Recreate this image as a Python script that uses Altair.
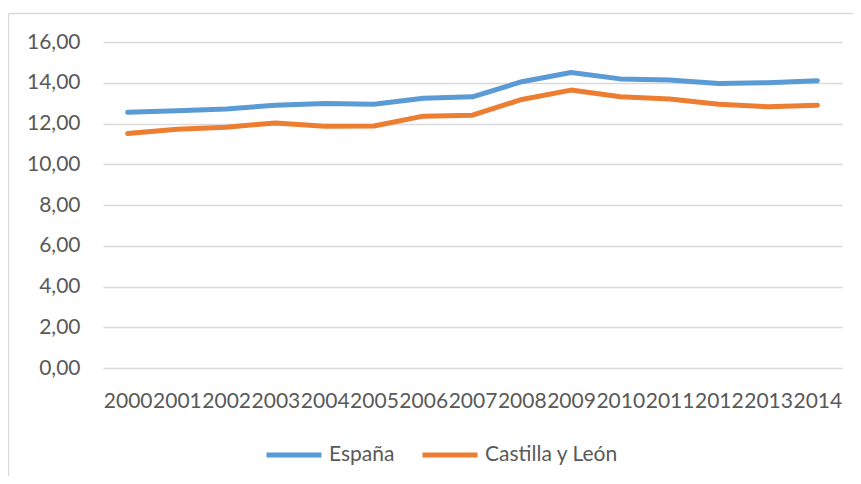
import altair as alt
import pandas as pd

years = [str(y) for y in range(2000, 2015)]
espana = [12.55, 12.63, 12.71, 12.90, 12.98, 12.94, 13.24, 13.31, 14.05, 14.50, 14.19, 14.14, 13.96, 14.00, 14.10]
castilla = [11.51, 11.72, 11.82, 12.03, 11.87, 11.88, 12.36, 12.41, 13.18, 13.64, 13.31, 13.20, 12.94, 12.82, 12.89]
series_names = ["España", "Castilla y León"]
series_colors = ["#5B9BD5", "#ED7D31"]
y_ticks = [0, 2, 4, 6, 8, 10, 12, 14, 16]

rows = []
for name, vals in zip(series_names, [espana, castilla]):
    for yr, v in zip(years, vals):
        rows.append({"year": yr, "value": v, "serie": name})
df = pd.DataFrame(rows)

FONT = "Lato"
TXT = "#595959"
GRID = "#d9d9d9"

lines = alt.Chart(df).mark_line(strokeWidth=5, strokeCap="round", strokeJoin="round").encode(
    x=alt.X("year:O", sort=years, title=None,
            scale=alt.Scale(type="point", padding=0.5),
            axis=alt.Axis(labelAngle=0, labelFontSize=21, labelFont=FONT, labelColor=TXT,
                          labelPadding=22, ticks=False, domain=False, grid=False,
                          labelOverlap=False)),
    y=alt.Y("value:Q", title=None,
            scale=alt.Scale(domain=[0, 16], nice=False, zero=True),
            axis=alt.Axis(values=y_ticks, labelExpr="replace(format(datum.value, '.2f'), '.', ',')",
                          labelFontSize=21, labelFont=FONT, labelColor=TXT, labelPadding=23,
                          ticks=False, domain=False, gridColor=GRID, gridWidth=1.3)),
    color=alt.Color("serie:N", sort=series_names,
                    scale=alt.Scale(domain=series_names, range=series_colors),
                    legend=alt.Legend(title=None, orient="none", legendX=161, legendY=383,
                                      direction="horizontal", symbolType="stroke",
                                      symbolSize=3025, symbolStrokeWidth=5,
                                      labelFontSize=21, labelFont=FONT, labelColor=TXT,
                                      labelOffset=5, columnPadding=17)),
)

border_left = alt.Chart(alt.Data(values=[{}])).mark_rule(color=GRID, strokeWidth=1.3).encode(
    x=alt.value(-94.5), y=alt.value(-28.5), y2=alt.value(600))
border_top = alt.Chart(alt.Data(values=[{}])).mark_rule(color=GRID, strokeWidth=1.3).encode(
    x=alt.value(-94.5), x2=alt.value(900), y=alt.value(-28.5))

chart = alt.layer(border_left, border_top, lines).properties(
    width=739, height=326,
    autosize=alt.AutoSizeParams(type="none"),
    padding={"left": 95, "top": 34, "right": 11, "bottom": 108},
).configure_view(stroke=None)

chart.save("out.html", embed_options={"renderer": "svg", "actions": False})
